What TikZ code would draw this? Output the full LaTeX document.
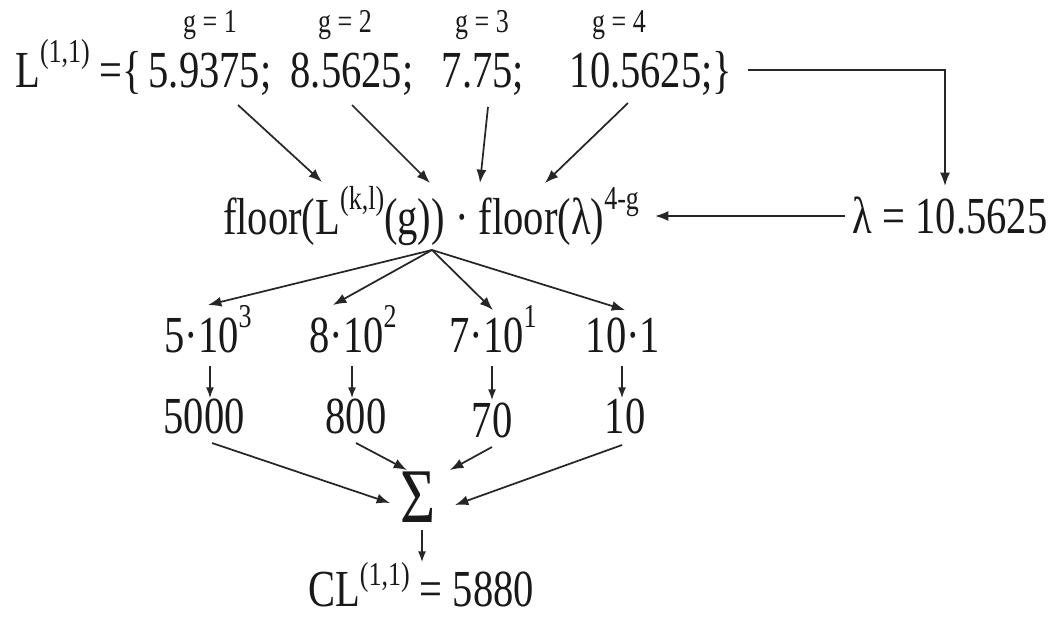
\documentclass[tikz,border=0pt]{standalone}
\usepackage{fontspec}
\setmainfont[FakeStretch=0.78]{Liberation Serif}
\usetikzlibrary{arrows.meta}
\tikzset{
  txt/.style={inner sep=0pt, anchor=base, font=\fontsize{39}{42}\selectfont, text=black!90},
  glab/.style={inner sep=0pt, anchor=base, font=\fontsize{25}{27}\selectfont, text=black!90},
  arr/.style={draw=black!85, line width=1.3pt, -{Latex[length=10pt,width=7.5pt]}},
  sarr/.style={draw=black!85, line width=1.0pt, -{Latex[length=8pt,width=6pt]}},
}
\newcommand{\spx}[1]{\raisebox{0.48em}{\fontsize{25}{25}\selectfont #1}}
\newcommand{\spl}[1]{\raisebox{0.40em}{\fontsize{25}{25}\selectfont #1}}
\begin{document}
\begin{tikzpicture}[x=0.75pt,y=-0.75pt]
\useasboundingbox (0,0) rectangle (1059,619);
% g labels
\node[glab] (g1) at (210,32) {g = 1};
\node[glab] (g2) at (345,32) {g = 2};
\node[glab] (g3) at (482,32) {g = 3};
\node[glab] (g4) at (619,32) {g = 4};
% top row
\node[txt, anchor=base west] (Lh) at (15,87) {L\spx{(1,1)} =\{};
\node[txt] (n1) at (210,87) {5.9375;};
\node[txt] (n2) at (352,87) {8.5625;};
\node[txt] (n3) at (483,87) {7.75;};
\node[txt] (n4) at (651,87) {10.5625;\}};
% floor
\node[txt] (fl) at (431,234) {floor(L\spx{(k,l)}(g)) · floor(λ)\spx{4-g}};
\node[txt] (lam) at (950,233) {λ = 10.5625};
% row 3
\node[txt] (r1) at (208,352) {5·10\spx{3}};
\node[txt] (r2) at (353,352) {8·10\spx{2}};
\node[txt] (r3) at (493,352) {7·10\spx{1}};
\node[txt] (r4) at (623,352) {10·1};
% row 4
\node[txt] (s1) at (204,433) {5000};
\node[txt] (s2) at (356,433) {800};
\node[txt] (s3) at (492,437) {70};
\node[txt] (s4) at (625,433) {10};
% sum
\node[inner sep=0pt, anchor=base, font=\fontsize{58}{60}\selectfont, text=black!90] (sum) at (418,522) {Σ};
\node[txt] (cl) at (421,606) {CL\spl{(1,1)} = 5880};
% coordinates
\coordinate (a1s) at (238,105); \coordinate (a1e) at (322,182);
\coordinate (a2s) at (352,105); \coordinate (a2e) at (430,183);
\coordinate (a3s) at (488,107); \coordinate (a3e) at (480,183);
\coordinate (a4s) at (628,103); \coordinate (a4e) at (545,183);
\coordinate (brs) at (748,70); \coordinate (bre) at (945,186);
\coordinate (las) at (845,216); \coordinate (lae) at (655,216);
\coordinate (ap) at (432,250);
\coordinate (t1) at (208,305); \coordinate (t2) at (333,305);
\coordinate (t3) at (493,310); \coordinate (t4) at (625,310);
\coordinate (d1s) at (210,366); \coordinate (d1e) at (210,398);
\coordinate (d2s) at (352,366); \coordinate (d2e) at (352,398);
\coordinate (d3s) at (492,366); \coordinate (d3e) at (492,400);
\coordinate (d4s) at (622,366); \coordinate (d4e) at (622,398);
\coordinate (e1s) at (212,443); \coordinate (e1e) at (390,503);
\coordinate (e2s) at (356,443); \coordinate (e2e) at (407,470);
\coordinate (e3s) at (492,447); \coordinate (e3e) at (450,470);
\coordinate (e4s) at (622,445); \coordinate (e4e) at (455,505);
\coordinate (cs) at (422,530); \coordinate (ce) at (422,562);
% arrows
\draw[arr] (a1s) -- (a1e);
\draw[arr] (a2s) -- (a2e);
\draw[arr] (a3s) -- (a3e);
\draw[arr] (a4s) -- (a4e);
\draw[arr] (brs) -- (brs -| bre) -- (bre);
\draw[arr] (las) -- (lae);
\draw[arr] (ap) -- (t1);
\draw[arr] (ap) -- (t2);
\draw[arr] (ap) -- (t3);
\draw[arr] (ap) -- (t4);
\draw[sarr] (d1s) -- (d1e);
\draw[sarr] (d2s) -- (d2e);
\draw[sarr] (d3s) -- (d3e);
\draw[sarr] (d4s) -- (d4e);
\draw[arr] (e1s) -- (e1e);
\draw[arr] (e2s) -- (e2e);
\draw[arr] (e3s) -- (e3e);
\draw[arr] (e4s) -- (e4e);
\draw[sarr] (cs) -- (ce);
\end{tikzpicture}
\end{document}
